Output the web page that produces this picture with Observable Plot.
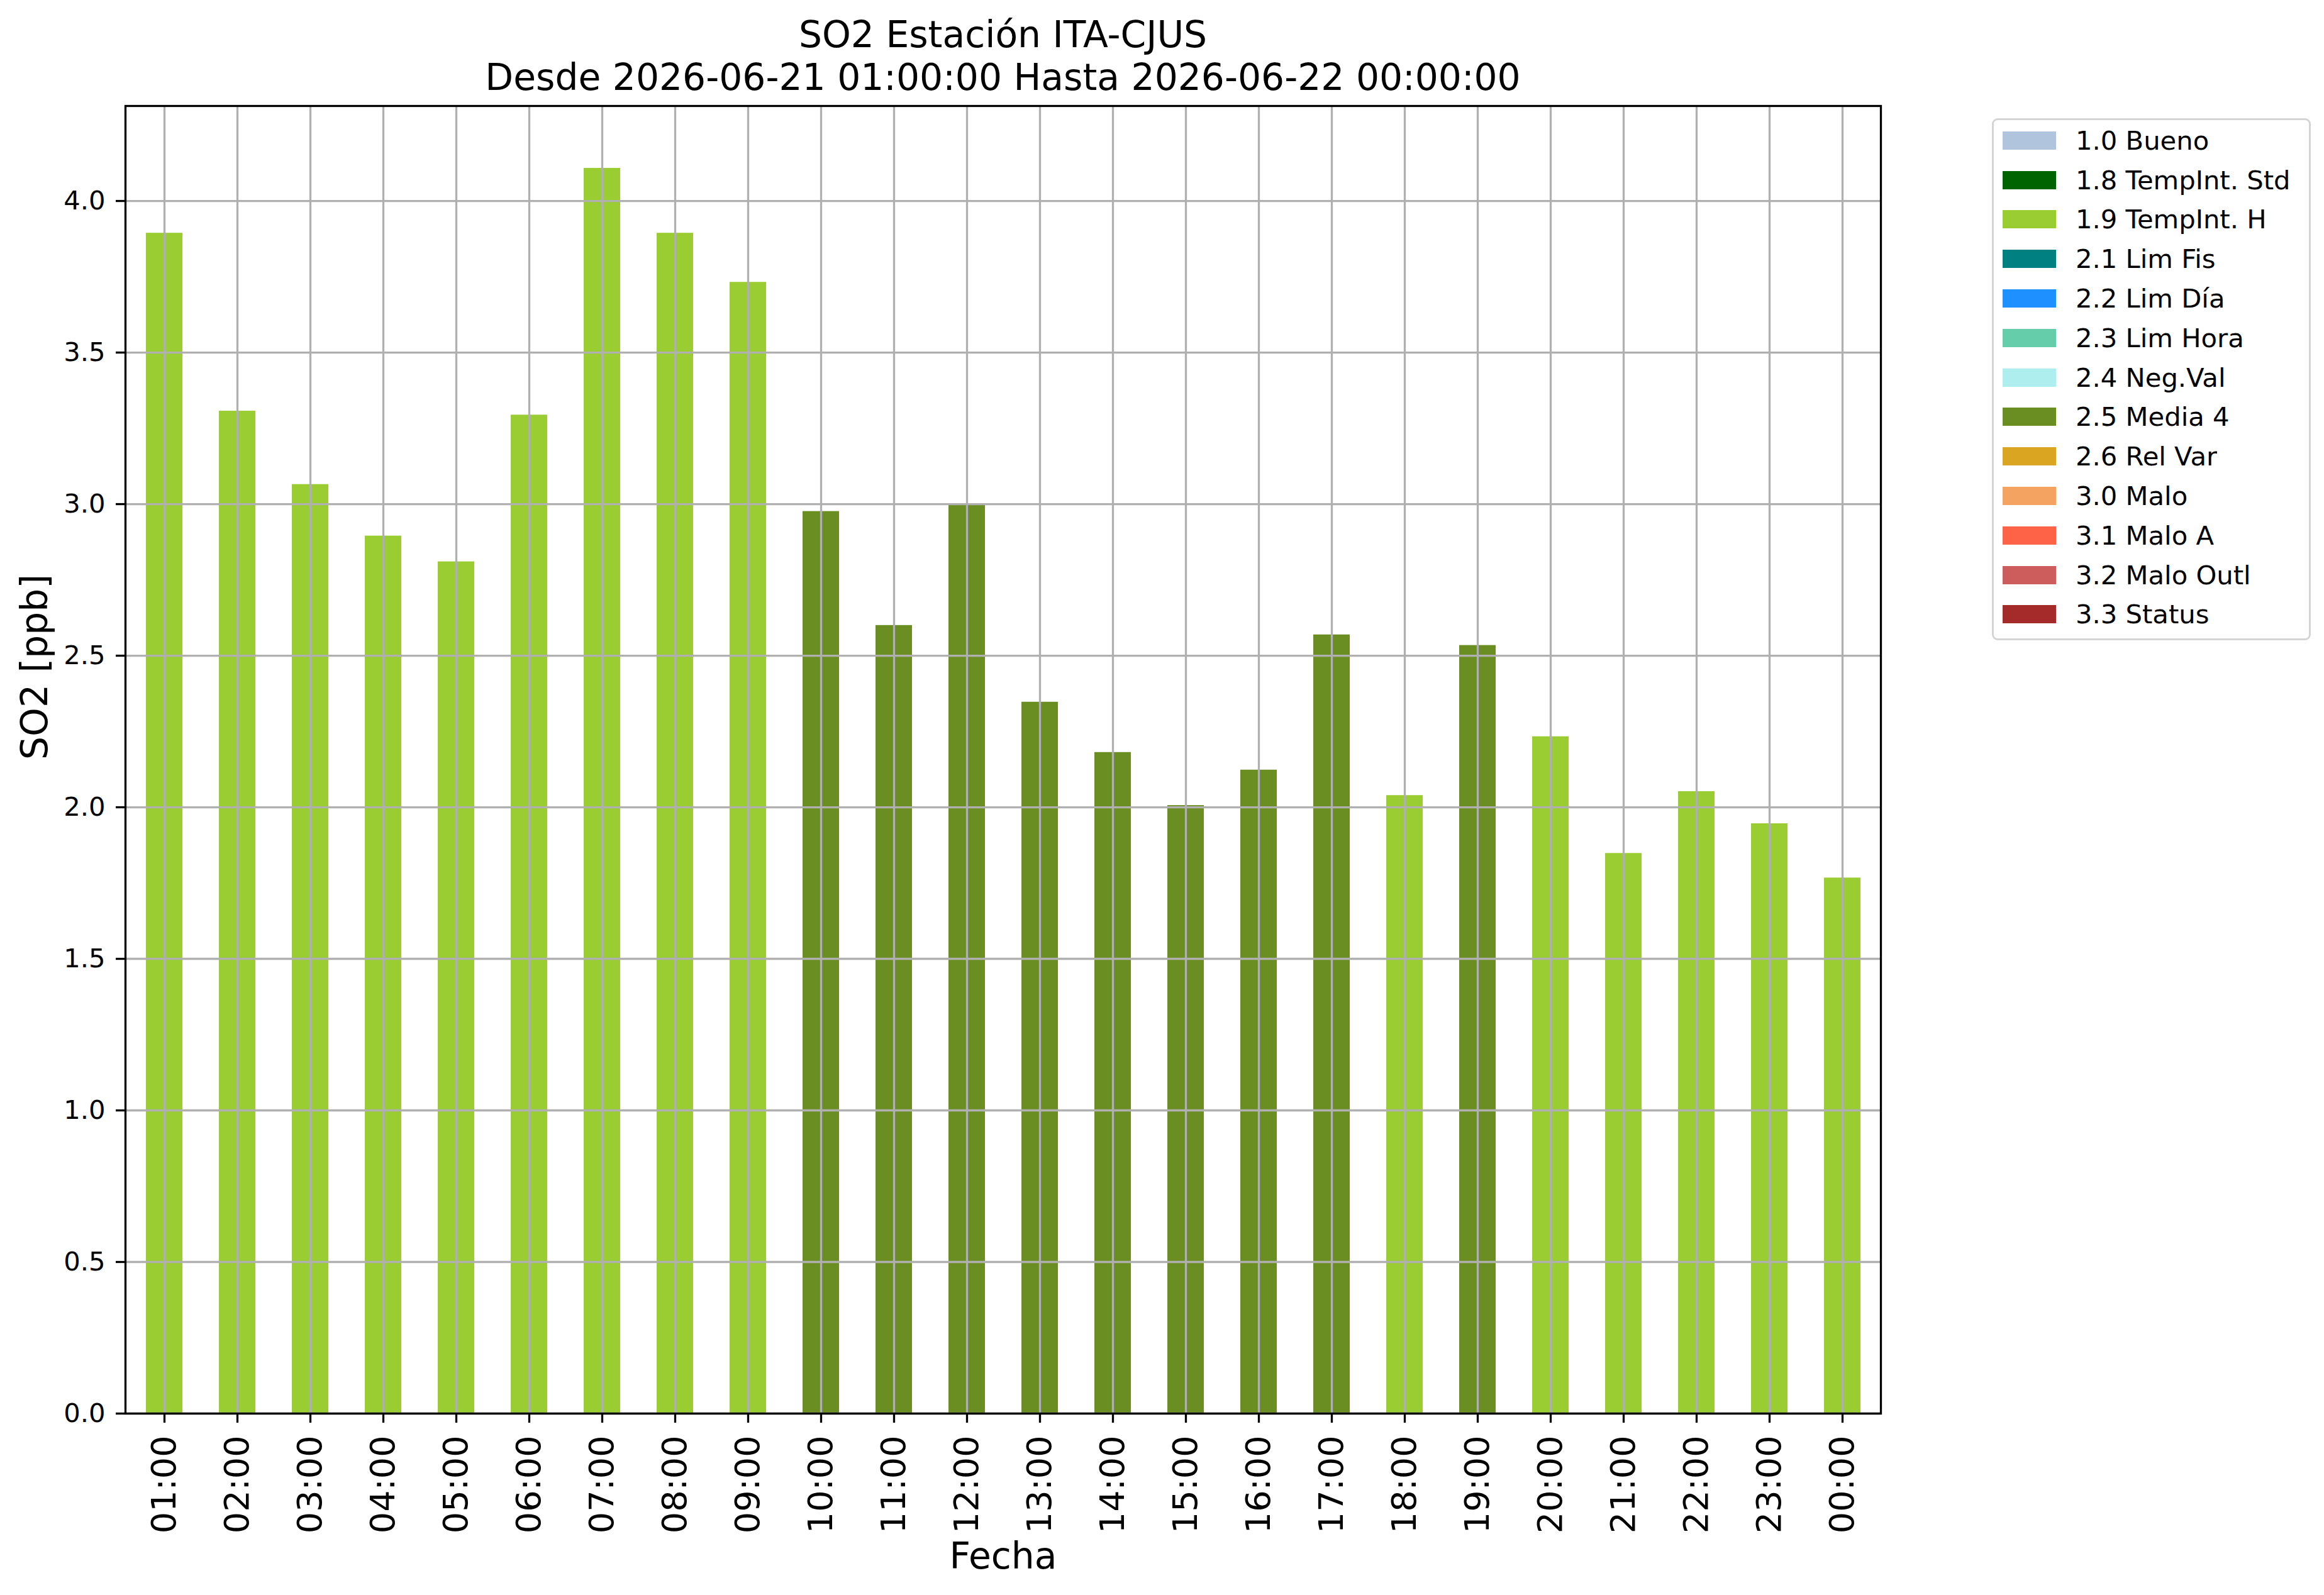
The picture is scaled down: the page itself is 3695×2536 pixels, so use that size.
<!DOCTYPE html>
<html>
<head>
<meta charset="utf-8">
<script src="https://cdn.jsdelivr.net/npm/d3@7"></script>
<script src="https://cdn.jsdelivr.net/npm/@observablehq/plot@0.6"></script>
<style>
html, body { margin: 0; padding: 0; background: #fff; }
#wrap { position: relative; width: 3695px; height: 2536px; font-family: "DejaVu Sans"; color: #000; }
#chart { position: absolute; left: 0; top: 0; }
#title { position: absolute; left: 0; top: 21px; width: 3189px; text-align: center; font-size: 58.3px; line-height: 68px; white-space: nowrap; }
#legend { position: absolute; left: 3167px; top: 188px; width: 507px; height: 830px; box-sizing: border-box;
  border: 3px solid #d5d5d5; border-radius: 9px; padding: 1px 0 0 14px; background: #fff; }
.leg-swatches { font-family: "DejaVu Sans"; font-size: 41.7px; margin: 0; color: #000; }
.leg-swatch { height: 62.8px; padding: 0; }
.leg-swatch > svg { margin-right: 31px; }
</style>
</head>
<body>
<div id="wrap">
  <div id="chart"></div>
  <div id="title"><div>SO2 Estación ITA-CJUS</div><div>Desde 2026-06-21 01:00:00 Hasta 2026-06-22 00:00:00</div></div>
  <div id="legend"></div>
</div>
<script>
const hours = ["01:00","02:00","03:00","04:00","05:00","06:00","07:00","08:00","09:00","10:00","11:00","12:00",
               "13:00","14:00","15:00","16:00","17:00","18:00","19:00","20:00","21:00","22:00","23:00","00:00"];
const so2 = [3.894, 3.307, 3.065, 2.895, 2.810, 3.294, 4.108, 3.894, 3.732, 2.976, 2.600, 2.997,
             2.347, 2.181, 2.006, 2.123, 2.569, 2.039, 2.534, 2.233, 1.848, 2.052, 1.946, 1.767];
const flags = ["1.9 TempInt. H","1.9 TempInt. H","1.9 TempInt. H","1.9 TempInt. H","1.9 TempInt. H","1.9 TempInt. H",
               "1.9 TempInt. H","1.9 TempInt. H","1.9 TempInt. H","2.5 Media 4","2.5 Media 4","2.5 Media 4",
               "2.5 Media 4","2.5 Media 4","2.5 Media 4","2.5 Media 4","2.5 Media 4","1.9 TempInt. H",
               "2.5 Media 4","1.9 TempInt. H","1.9 TempInt. H","1.9 TempInt. H","1.9 TempInt. H","1.9 TempInt. H"];
const flagLabels = ["1.0 Bueno","1.8 TempInt. Std","1.9 TempInt. H","2.1 Lim Fis","2.2 Lim Día","2.3 Lim Hora",
                    "2.4 Neg.Val","2.5 Media 4","2.6 Rel Var","3.0 Malo","3.1 Malo A","3.2 Malo Outl","3.3 Status"];
const flagColors = ["#b0c4de","#006400","#9acd32","#008080","#1e90ff","#66cdaa",
                    "#afeeee","#6b8e23","#daa520","#f4a460","#ff6347","#cd5c5c","#a52a2a"];
const yTicks = [0, 0.5, 1.0, 1.5, 2.0, 2.5, 3.0, 3.5, 4.0];
const yLabel = "SO2 [ppb]";
const xLabel = "Fecha";

const rows = hours.map((h, i) => ({hour: h, value: so2[i], flag: flags[i]}));

const chart = Plot.plot({
  width: 3695,
  height: 2536,
  marginTop: 168,
  marginBottom: 289,
  marginLeft: 199,
  marginRight: 705,
  style: {fontFamily: "DejaVu Sans", background: "white", color: "black"},
  x: {type: "band", domain: hours, paddingInner: 0.5, paddingOuter: 0.25, axis: null},
  y: {domain: [0, d3.max(so2) * 1.05], axis: null},
  color: {type: "ordinal", domain: flagLabels, range: flagColors},
  marks: [
    Plot.barY(rows, {x: "hour", y: "value", fill: "flag"}),
    Plot.gridX(hours, {stroke: "#b0b0b0", strokeOpacity: 1, strokeWidth: 3.3}),
    Plot.gridY(yTicks, {stroke: "#b0b0b0", strokeOpacity: 1, strokeWidth: 3.3}),
    Plot.frame({stroke: "black", strokeWidth: 3.3}),
    Plot.axisY(yTicks, {tickFormat: d3.format(".1f"), fontSize: 41.7, tickSize: 15, tickPadding: 17, strokeWidth: 3.3, label: null}),
    Plot.axisX(hours, {tickRotate: -90, fontSize: 54, tickSize: 15, tickPadding: 20, strokeWidth: 3.3, label: null}),
    Plot.text([yLabel], {frameAnchor: "left", lineAnchor: "middle", text: d => d, rotate: -90, dx: -143, fontSize: 58.3, fill: "black"}),
    Plot.text([xLabel], {frameAnchor: "bottom", lineAnchor: "middle", text: d => d, dy: 228, fontSize: 58.3, fill: "black"})
  ]
});
document.getElementById("chart").appendChild(chart);

const leg = chart.legend("color", {legend: "swatches", columns: 1, swatchWidth: 85, swatchHeight: 29, className: "leg"});
document.getElementById("legend").appendChild(leg);
</script>
</body>
</html>
